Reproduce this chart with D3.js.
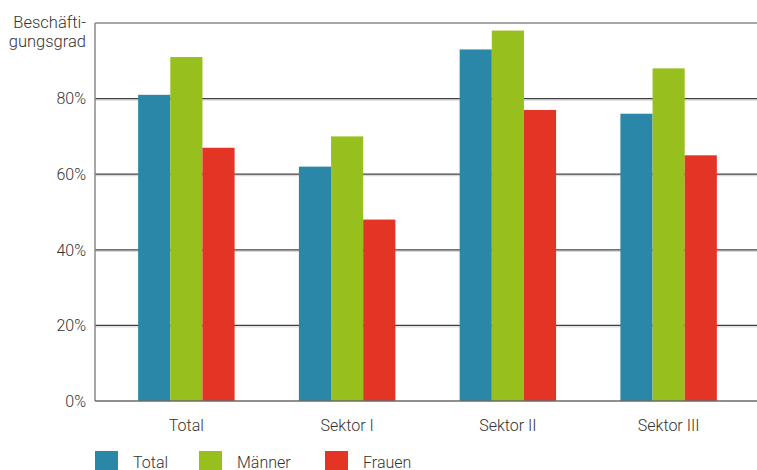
<!DOCTYPE html>
<html><head><meta charset="utf-8">
<script src="https://cdn.jsdelivr.net/npm/d3@7"></script>
<style>
body{margin:0;background:#fff;}
text{font-family:Roboto,"Open Sans",sans-serif;font-weight:300;fill:#333;}
</style></head>
<body><svg id="c" width="757" height="470"></svg>
<script>
const categories = ["Total","Sektor I","Sektor II","Sektor III"];
const seriesNames = ["Total","Männer","Frauen"];
const totalValues = [81,62,93,76];
const maennerValues = [91,70,98,88];
const frauenValues = [67,48,77,65];
const yTicks = [0,20,40,60,80];
const colors = ["#2a87a8","#97c01f","#e33425"];

const series = [totalValues, maennerValues, frauenValues];
const svg = d3.select("#c");
const pLeft = 95, pRight = 757, pTop = 23, pBottom = 401;

const y = d3.scaleLinear().domain([0,100]).range([pBottom, pTop]);
const x0 = d3.scaleBand().domain(categories).range([106, 749]).paddingInner(0.4).paddingOuter(0.2);
const x1 = d3.scaleBand().domain(seriesNames).range([0, x0.bandwidth()]);

// gridlines
const gridVals = [20,40,60,80];
svg.selectAll(".gl2").data(gridVals).join("line")
  .attr("x1", pLeft).attr("x2", pRight)
  .attr("y1", d => y(d)+1.5).attr("y2", d => y(d)+1.5)
  .attr("stroke", "#cfcfcf").attr("stroke-width", 1);
svg.selectAll(".gl").data(gridVals).join("line")
  .attr("x1", pLeft).attr("x2", pRight)
  .attr("y1", d => y(d)).attr("y2", d => y(d))
  .attr("stroke", "#404040").attr("stroke-width", 1.2);
// top line
svg.append("line").attr("x1", pLeft).attr("x2", pRight).attr("y1", y(100)).attr("y2", y(100))
  .attr("stroke", "#8a8a8a").attr("stroke-width", 1.6);

// bars
const groups = svg.selectAll(".grp").data(categories).join("g")
  .attr("transform", d => `translate(${x0(d)},0)`);
groups.selectAll("rect").data((c, i) => series.map((s, j) => ({name: seriesNames[j], v: s[i], j})))
  .join("rect")
  .attr("x", d => x1(d.name))
  .attr("width", x1.bandwidth())
  .attr("y", d => y(d.v))
  .attr("height", d => pBottom - y(d.v))
  .attr("fill", d => colors[d.j]);

// axes lines
svg.append("line").attr("x1", pLeft).attr("x2", pLeft).attr("y1", pTop).attr("y2", pBottom)
  .attr("stroke", "#8a8a8a").attr("stroke-width", 1.5);
svg.append("line").attr("x1", pLeft).attr("x2", pRight).attr("y1", pBottom).attr("y2", pBottom)
  .attr("stroke", "#6a6a6a").attr("stroke-width", 1.5);

// y tick labels
svg.selectAll(".yt").data(yTicks).join("text")
  .attr("x", 86).attr("y", d => y(d)).attr("dy", "0.36em")
  .attr("text-anchor", "end").attr("font-size", 16)
  .text(d => d + "%");

// y title
svg.append("text").attr("text-anchor", "end").attr("font-size", 16.5)
  .attr("x", 86).attr("y", 27.5).text("Beschäfti-");
svg.append("text").attr("text-anchor", "end").attr("font-size", 16.5)
  .attr("x", 86).attr("y", 47).text("gungsgrad");

// x labels
svg.selectAll(".xl").data(categories).join("text")
  .attr("x", d => x0(d) + x0.bandwidth()/2).attr("y", 430.5)
  .attr("text-anchor", "middle").attr("font-size", 16)
  .text(d => d);

// legend
const legX = [95, 199, 325];
const lg = svg.selectAll(".lg").data(seriesNames).join("g")
  .attr("transform", (d, i) => `translate(${legX[i]},451)`);
lg.append("rect").attr("width", 23).attr("height", 19).attr("fill", (d, i) => colors[i]);
lg.append("text").attr("x", 38).attr("y", 16.5).attr("font-size", 16).text(d => d);
</script></body></html>
